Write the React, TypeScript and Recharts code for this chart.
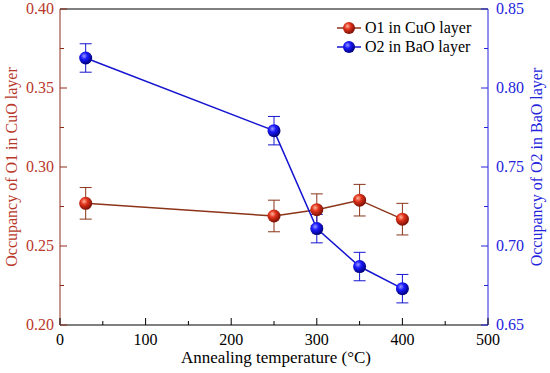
import React from "react";
import { LineChart, Line, XAxis, YAxis, ErrorBar, ReferenceLine } from "recharts";

const temps = [30, 250, 300, 350, 400];
const o1 = [0.277, 0.269, 0.273, 0.279, 0.267];
const o1Err = [0.01, 0.01, 0.01, 0.01, 0.01];
const o2 = [0.819, 0.773, 0.711, 0.687, 0.673];
const o2Err = [0.009, 0.009, 0.009, 0.009, 0.009];

const xTicks = [0, 50, 100, 150, 200, 250, 300, 350, 400, 450, 500];
const leftTicks = [0.2, 0.225, 0.25, 0.275, 0.3, 0.325, 0.35, 0.375, 0.4];
const rightTicks = [0.65, 0.675, 0.7, 0.725, 0.75, 0.775, 0.8, 0.825, 0.85];

const data = temps.map((t, i) => ({ t, o1: o1[i], e1: o1Err[i], o2: o2[i], e2: o2Err[i] }));

const FONT = "'Liberation Serif', 'Times New Roman', serif";
const RED_AXIS = "#8e2c1c";
const RED_TEXT = "#b8392b";
const RED_LINE = "#8b3418";
const BLUE = "#2424dc";
const BLUE_LINE = "#1515d0";

const isMajor = (v: number, step: number) => Math.abs(Math.round(v / step) * step - v) < 1e-6;

const XTick = (props: any) => {
  const { x, y, payload } = props;
  const major = isMajor(payload.value, 100);
  return (
    <g>
      <line x1={x} x2={x} y1={y} y2={y - (major ? 7 : 4)} stroke="#000" strokeWidth={1} />
      {major && (
        <text x={x} y={y + 20} textAnchor="middle" fontFamily={FONT} fontSize={16} fill="#000">
          {payload.value}
        </text>
      )}
    </g>
  );
};

const LeftTick = (props: any) => {
  const { x, y, payload } = props;
  const major = isMajor(payload.value, 0.05);
  return (
    <g>
      <line x1={x} x2={x + (major ? 7 : 4)} y1={y} y2={y} stroke={RED_AXIS} strokeWidth={1} />
      {major && (
        <text x={x - 6} y={y + 5} textAnchor="end" fontFamily={FONT} fontSize={16} fill={RED_TEXT}>
          {payload.value.toFixed(2)}
        </text>
      )}
    </g>
  );
};

const RightTick = (props: any) => {
  const { x, y, payload } = props;
  const major = isMajor(payload.value, 0.05);
  return (
    <g>
      <line x1={x} x2={x - (major ? 7 : 4)} y1={y} y2={y} stroke={BLUE} strokeWidth={1} />
      {major && (
        <text x={x + 8} y={y + 5} textAnchor="start" fontFamily={FONT} fontSize={16} fill={BLUE}>
          {payload.value.toFixed(2)}
        </text>
      )}
    </g>
  );
};

const Ball = (props: any) => {
  const { cx, cy, grad } = props;
  if (cx == null || cy == null) return null;
  return <circle cx={cx} cy={cy} r={6.5} fill={`url(#${grad})`} />;
};

const LegendBox = () => (
  <svg width={150} height={44}>
    <line x1={4} x2={28} y1={10} y2={10} stroke={RED_LINE} strokeWidth={1.5} />
    <circle cx={16} cy={10} r={6} fill="url(#gRed)" />
    <text x={32} y={15} fontFamily={FONT} fontSize={16} fill="#000">O1 in CuO layer</text>
    <line x1={4} x2={28} y1={29} y2={29} stroke={BLUE_LINE} strokeWidth={1.5} />
    <circle cx={16} cy={29} r={6} fill="url(#gBlue)" />
    <text x={32} y={34} fontFamily={FONT} fontSize={16} fill="#000">O2 in BaO layer</text>
  </svg>
);

export default function App() {
  return (
    <div style={{ position: "absolute", left: 0, top: 0, width: 550, height: 373, background: "#fff" }}>
      <svg width={0} height={0} style={{ position: "absolute" }}>
        <defs>
          <radialGradient id="gRed" cx="38%" cy="35%" r="65%">
            <stop offset="0%" stopColor="#ffb49a" />
            <stop offset="40%" stopColor="#e2331c" />
            <stop offset="100%" stopColor="#7a1004" />
          </radialGradient>
          <radialGradient id="gBlue" cx="38%" cy="35%" r="65%">
            <stop offset="0%" stopColor="#9a9aff" />
            <stop offset="40%" stopColor="#1a1aff" />
            <stop offset="100%" stopColor="#00007a" />
          </radialGradient>
        </defs>
      </svg>
      <LineChart width={550} height={373} data={data} margin={{ top: 9, right: 0, bottom: 0, left: 0 }}>
        <XAxis
          dataKey="t"
          type="number"
          domain={[0, 500]}
          ticks={xTicks}
          interval={0}
          height={48}
          stroke="#000"
          tickLine={false}
          tickSize={0}
          tickMargin={0}
          tick={<XTick />}
          label={{
            content: () => (
              <text x={276} y={363} textAnchor="middle" fontFamily={FONT} fontSize={17} fill="#000">
                Annealing temperature (°C)
              </text>
            ),
          }}
        />
        <YAxis
          yAxisId="left"
          domain={[0.2, 0.4]}
          ticks={leftTicks}
          interval={0}
          width={60}
          stroke={RED_AXIS}
          tickLine={false}
          tickSize={0}
          tickMargin={0}
          tick={<LeftTick />}
          label={{
            content: () => (
              <text
                x={17}
                y={167}
                transform="rotate(-90 17 167)"
                textAnchor="middle"
                fontFamily={FONT}
                fontSize={16}
                fill={RED_TEXT}
              >
                Occupancy of O1 in CuO layer
              </text>
            ),
          }}
        />
        <YAxis
          yAxisId="right"
          orientation="right"
          domain={[0.65, 0.85]}
          ticks={rightTicks}
          interval={0}
          width={62}
          stroke={BLUE}
          tickLine={false}
          tickSize={0}
          tickMargin={0}
          tick={<RightTick />}
          label={{
            content: () => (
              <text
                x={542}
                y={167}
                transform="rotate(-90 542 167)"
                textAnchor="middle"
                fontFamily={FONT}
                fontSize={16}
                fill={BLUE}
              >
                Occupancy of O2 in BaO layer
              </text>
            ),
          }}
        />
        <ReferenceLine yAxisId="left" y={0.4} stroke="#000" strokeWidth={1} />
        <Line
          yAxisId="left"
          dataKey="o1"
          stroke={RED_LINE}
          strokeWidth={1.5}
          dot={<Ball grad="gRed" />}
          isAnimationActive={false}
        >
          <ErrorBar dataKey="e1" width={6} stroke={RED_LINE} strokeWidth={1} direction="y" isAnimationActive={false} />
        </Line>
        <Line
          yAxisId="right"
          dataKey="o2"
          stroke={BLUE_LINE}
          strokeWidth={1.5}
          dot={<Ball grad="gBlue" />}
          isAnimationActive={false}
        >
          <ErrorBar dataKey="e2" width={6} stroke={BLUE_LINE} strokeWidth={1} direction="y" isAnimationActive={false} />
        </Line>
      </LineChart>
      <div style={{ position: "absolute", left: 333, top: 18 }}>
        <LegendBox />
      </div>
    </div>
  );
}
